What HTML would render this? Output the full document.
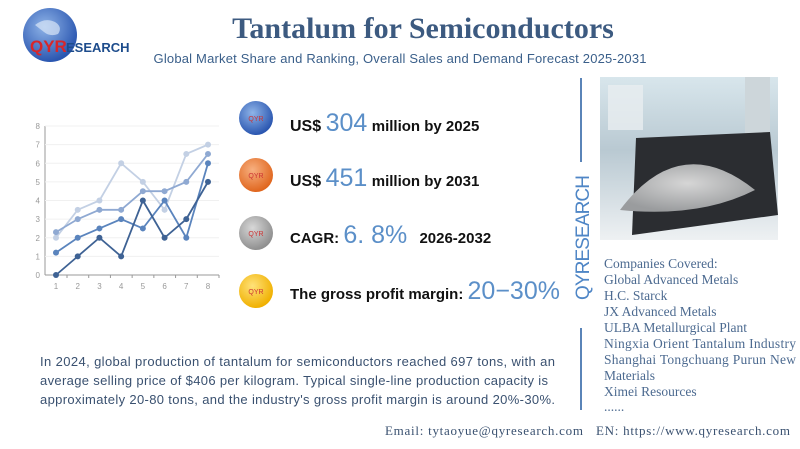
<!DOCTYPE html>
<html><head><meta charset="utf-8"><style>
html,body{margin:0;padding:0;background:#fff;width:800px;height:449px;overflow:hidden}
svg{display:block}
</style></head><body>
<svg width="800" height="449" viewBox="0 0 800 449" xmlns="http://www.w3.org/2000/svg">
<defs>
<radialGradient id="gb" cx="40%" cy="35%" r="65%"><stop offset="0" stop-color="#8fb4e8"/><stop offset="1" stop-color="#2a56b0"/></radialGradient>
<radialGradient id="go" cx="40%" cy="35%" r="65%"><stop offset="0" stop-color="#f7b080"/><stop offset="1" stop-color="#e0661e"/></radialGradient>
<radialGradient id="gg" cx="40%" cy="35%" r="65%"><stop offset="0" stop-color="#d8d8d8"/><stop offset="1" stop-color="#8f8f8f"/></radialGradient>
<radialGradient id="gy" cx="40%" cy="35%" r="65%"><stop offset="0" stop-color="#ffe27a"/><stop offset="1" stop-color="#f0b000"/></radialGradient>
<linearGradient id="photo" x1="0" y1="0" x2="0" y2="1"><stop offset="0" stop-color="#d8e6ec"/><stop offset="0.45" stop-color="#b9c9d2"/><stop offset="1" stop-color="#eef1f3"/></linearGradient>
<radialGradient id="powder" cx="50%" cy="40%" r="60%"><stop offset="0" stop-color="#d6d6d6"/><stop offset="1" stop-color="#9a9c9e"/></radialGradient>
</defs>
<g>
<circle cx="50" cy="35" r="27" fill="url(#gb)"/>
<path d="M35 25 q10 -8 20 -3 q8 5 3 12 q-8 3 -14 -2 z" fill="#d8e6f6" opacity="0.7"/>
<text x="30" y="52" font-family="Liberation Sans,sans-serif" font-weight="bold" font-size="17" fill="#d8262a">QYR</text>
<text x="66" y="52" font-family="Liberation Sans,sans-serif" font-weight="bold" font-size="13" fill="#1d4c8c">ESEARCH</text>
</g>
<text x="423" y="38" text-anchor="middle" font-family="Liberation Serif,serif" font-weight="bold" font-size="30" fill="#3c5a80">Tantalum for Semiconductors</text>
<text x="400" y="63" text-anchor="middle" font-family="Liberation Sans,sans-serif" font-size="13" fill="#3a5f8a" textLength="493">Global Market Share and Ranking, Overall Sales and Demand Forecast 2025-2031</text>

<g id="chart"></g>

<g font-family="Liberation Sans,sans-serif">
<circle cx="256" cy="118" r="17" fill="url(#gb)"/>
<text x="256" y="121" text-anchor="middle" font-size="7" fill="#c33">QYR</text>
<text x="290" y="131" font-size="16" font-weight="bold" fill="#111">US$ <tspan font-size="25" font-weight="normal" fill="#5b8fc8">304</tspan> <tspan font-size="15">million by 2025</tspan></text>
<circle cx="256" cy="175" r="17" fill="url(#go)"/>
<text x="256" y="178" text-anchor="middle" font-size="7" fill="#c33">QYR</text>
<text x="290" y="186" font-size="16" font-weight="bold" fill="#111">US$ <tspan font-size="25" font-weight="normal" fill="#5b8fc8">451</tspan> <tspan font-size="15">million by 2031</tspan></text>
<circle cx="256" cy="233" r="17" fill="url(#gg)"/>
<text x="256" y="236" text-anchor="middle" font-size="7" fill="#c33">QYR</text>
<text x="290" y="243" font-size="15" font-weight="bold" fill="#111">CAGR: <tspan font-size="25" font-weight="normal" fill="#5b8fc8">6. 8%</tspan>  <tspan dx="8">2026-2032</tspan></text>
<circle cx="256" cy="291" r="17" fill="url(#gy)"/>
<text x="256" y="294" text-anchor="middle" font-size="7" fill="#c33">QYR</text>
<text x="290" y="299" font-size="15" font-weight="bold" fill="#111">The gross profit margin: <tspan font-size="25" font-weight="normal" fill="#5b8fc8">20−30%</tspan></text>
</g>

<line x1="581" y1="78" x2="581" y2="162" stroke="#5a84b8" stroke-width="2"/>
<line x1="581" y1="328" x2="581" y2="410" stroke="#5a84b8" stroke-width="2"/>
<text transform="translate(589,300) rotate(-90)" font-family="Liberation Sans,sans-serif" font-size="19" fill="#4f86c6" textLength="125">QYRESEARCH</text>
<g>
<rect x="600" y="77" width="178" height="163" fill="url(#photo)"/>
<rect x="608" y="85" width="35" height="45" fill="#e8eef0" opacity="0.8"/>
<rect x="745" y="77" width="25" height="70" fill="#cdd6da"/>
<path d="M636 138 L770 132 L778 215 L632 235 Z" fill="#2b2d31"/>
<path d="M620 210 Q680 130 755 190 Q700 218 620 210 Z" fill="url(#powder)"/>
</g>
<g font-family="Liberation Serif,serif" font-size="13.5" fill="#4c6a90">
<text x="604" y="268">Companies Covered:</text>
<text x="604" y="284">Global Advanced Metals</text>
<text x="604" y="300">H.C. Starck</text>
<text x="604" y="316">JX Advanced Metals</text>
<text x="604" y="332">ULBA Metallurgical Plant</text>
<text x="604" y="348" textLength="192">Ningxia Orient Tantalum Industry</text>
<text x="604" y="364" textLength="192">Shanghai Tongchuang Purun New</text>
<text x="604" y="380">Materials</text>
<text x="604" y="396">Ximei Resources</text>
<text x="604" y="411">......</text>
</g>
<g font-family="Liberation Sans,sans-serif" font-size="13" fill="#3a5170">
<text x="40" y="366" textLength="515">In 2024, global production of tantalum for semiconductors reached 697 tons, with an</text>
<text x="40" y="385" textLength="508">average selling price of $406 per kilogram. Typical single-line production capacity is</text>
<text x="40" y="404" textLength="515">approximately 20-80 tons, and the industry's gross profit margin is around 20%-30%.</text>
</g>
<text x="385" y="435" font-family="Liberation Serif,serif" font-size="13" fill="#3a5170" textLength="198">Email: tytaoyue@qyresearch.com</text>
<text x="596" y="435" font-family="Liberation Serif,serif" font-size="13" fill="#3a5170" textLength="194">EN: https://www.qyresearch.com</text>
</svg>
<script>
const categories=[1,2,3,4,5,6,7,8];
const yTicks=[0,1,2,3,4,5,6,7,8];
const series1=[2,3.5,4,6,5,3.5,6.5,7];
const series2=[2.3,3,3.5,3.5,4.5,4.5,5,6.5];
const series3=[1.2,2,2.5,3,2.5,4,2,6];
const series4=[0,1,2,1,4,2,3,5];
const seriesColors=['#c3d0e4','#8fa9d2','#5a84bd','#3e6294'];
const NS='http://www.w3.org/2000/svg';
const g=document.getElementById('chart');
const x=v=>56+(v-1)*(152/7);
const y=v=>275-v*(149/8);
function mk(t,a){const e=document.createElementNS(NS,t);for(const k in a)e.setAttribute(k,a[k]);g.appendChild(e);return e;}
let ax=mk('line',{x1:45,y1:y(8),x2:45,y2:y(0),stroke:'#999','stroke-width':1});


let bx=mk('line',{x1:45,y1:y(0),x2:219,y2:y(0),stroke:'#999','stroke-width':1});


yTicks.forEach(t=>{
  if(t>0){const gl=mk('line',{x1:45,y1:y(t),x2:219,y2:y(t),stroke:'#f0f0f0'});
  
  }
  const l=mk('text',{x:40,y:y(t)+3,'text-anchor':'end','font-size':8,'font-family':'Liberation Sans,sans-serif',fill:'#999'});
  l.textContent=t;
  
  
});
categories.forEach((c,i)=>{
  const l=mk('text',{x:x(c),y:289,'text-anchor':'middle','font-size':8,'font-family':'Liberation Sans,sans-serif',fill:'#999'});
  l.textContent=c;
  
  
  const tk=mk('line',{x1:x(c)+11,y1:y(0),x2:x(c)+11,y2:y(0)+3,stroke:'#999'});
  
  
});
[series1,series2,series3,series4].forEach((s,si)=>{
  const pts=s.map((v,i)=>x(categories[i])+','+y(v)).join(' ');
  const pl=mk('polyline',{points:pts,fill:'none',stroke:seriesColors[si],'stroke-width':1.8});
  
  
  s.forEach((v,i)=>{
    const c=mk('circle',{cx:x(categories[i]),cy:y(v),r:3,fill:seriesColors[si]});
    
    
  });
});
</script>
</body></html>
